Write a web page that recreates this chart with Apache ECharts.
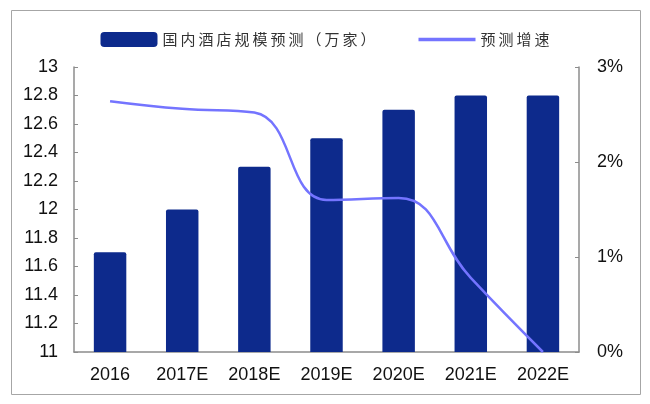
<!DOCTYPE html>
<html><head><meta charset="utf-8">
<script src="https://cdn.jsdelivr.net/npm/echarts@6/dist/echarts.min.js"></script>
<style>html,body{margin:0;padding:0;background:#fff}#c{width:650px;height:404px}</style>
</head><body><div id="c"></div>
<script>
const categories = ['2016','2017E','2018E','2019E','2020E','2021E','2022E'];
const hotelScale = [11.7, 12.0, 12.3, 12.5, 12.7, 12.8, 12.8];
const growthRate = [2.64, 2.56, 2.52, 1.6, 1.62, 0.78, 0];
const leftTicks = ['11','11.2','11.4','11.6','11.8','12','12.2','12.4','12.6','12.8','13'];
const barName = '国内酒店规模预测（万家）';
const lineName = '预测增速';

const chart = echarts.init(document.getElementById('c'), null, {renderer:'canvas'});
const axisColor = '#8c8c8c';
const labelFont = {color:'#111', fontSize:18, fontFamily:'Liberation Sans, Arial'};
chart.setOption({
  animation:false,
  graphic:[{type:'rect', shape:{x:11.5,y:10.5,width:629,height:384}, style:{fill:'none', stroke:'#a6a6a6', lineWidth:1}}],
  legend:{
    top:27, left:'center', itemGap:43,
    textStyle:{fontSize:15, fontFamily:'Noto Sans CJK SC', color:'#333'},
    formatter: n => n.split('').join('\u2009'),
    data:[
      {name:barName, icon:'roundRect', itemStyle:{color:'#0d2a8c'}},
      {name:lineName, icon:'path://M0,0 L40,0 L40,2.4 L0,2.4 Z', itemStyle:{color:'#7474ff'}}
    ],
    itemWidth:57, itemHeight:15
  },
  grid:{left:74, right:71, top:67, bottom:52},
  xAxis:{
    type:'category', data:categories,
    axisLine:{lineStyle:{color:axisColor, width:1.5}},
    axisTick:{inside:true, length:4, lineStyle:{color:axisColor}},
    axisLabel:Object.assign({margin:14}, labelFont)
  },
  yAxis:[{
    type:'value', min:11, max:13, interval:0.2,
    axisLine:{show:true, lineStyle:{color:axisColor, width:1.5}},
    axisTick:{show:true, inside:true, length:4, lineStyle:{color:axisColor}},
    splitLine:{show:false},
    axisLabel:Object.assign({margin:16, formatter:(v,i)=>leftTicks[i]}, labelFont)
  },{
    type:'value', min:0, max:3, interval:1,
    axisLine:{show:true, lineStyle:{color:axisColor, width:1.5}},
    axisTick:{show:true, inside:true, length:4, lineStyle:{color:axisColor}},
    splitLine:{show:false},
    axisLabel:Object.assign({margin:18, formatter:'{value}%'}, labelFont)
  }],
  series:[{
    name:barName, type:'bar', data:hotelScale, barWidth:'45%',
    itemStyle:{color:'#0d2a8c', borderRadius:[2,2,0,0]}
  },{
    name:lineName, type:'line', yAxisIndex:1, data:growthRate, smooth:0.45,
    symbol:'none', lineStyle:{color:'#7474ff', width:2.5}, itemStyle:{color:'#7474ff'}
  }]
});
</script></body></html>
